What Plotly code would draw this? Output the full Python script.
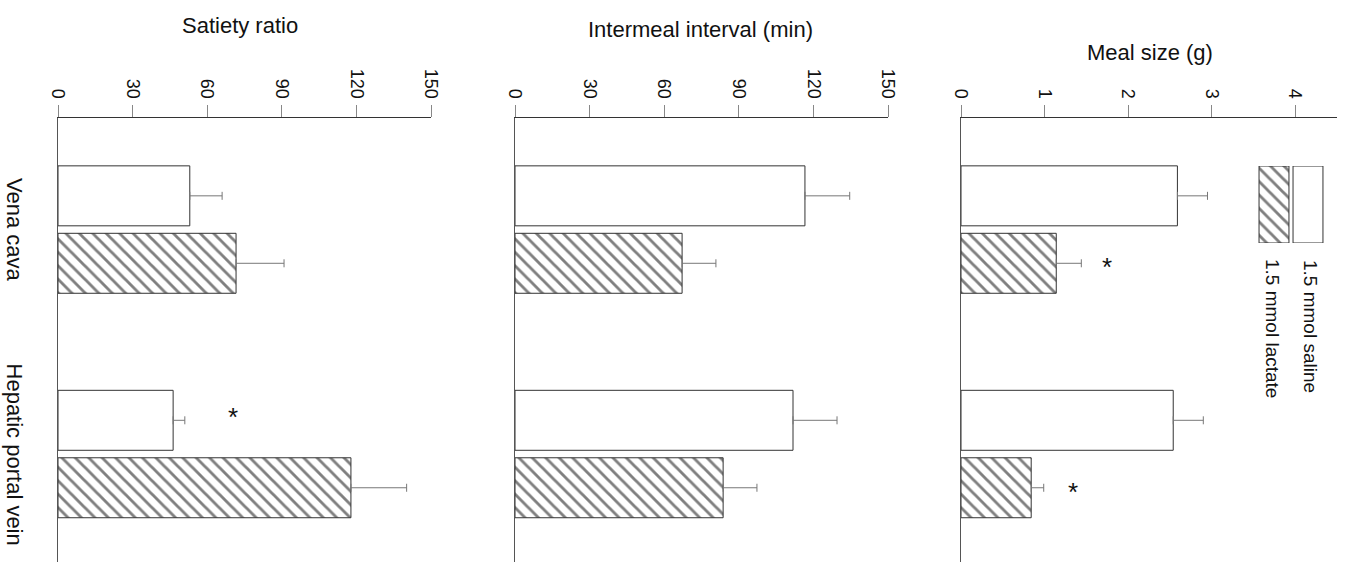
import plotly.graph_objects as go

W, H = 1349, 562

# ---- data ----
sites = ["Vena cava", "Hepatic portal vein"]
series_names = ["1.5 mmol saline", "1.5 mmol lactate"]

satiety_saline = [53.0, 46.3]
satiety_saline_err = [13.0, 4.7]
satiety_lactate = [71.6, 117.8]
satiety_lactate_err = [19.3, 22.4]

interval_saline = [116.6, 111.8]
interval_saline_err = [18.0, 17.7]
interval_lactate = [67.2, 83.7]
interval_lactate_err = [13.6, 13.6]

meal_saline = [2.59, 2.54]
meal_saline_err = [0.36, 0.36]
meal_lactate = [1.14, 0.84]
meal_lactate_err = [0.30, 0.15]

panel_titles = ["Satiety ratio", "Intermeal interval (min)", "Meal size (g)"]
ticks_150 = [0, 30, 60, 90, 120, 150]
ticks_meal = [0, 1, 2, 3, 4]

# significance stars: (panel, value position, category, series index)
stars = [(1, 70.4, 1, 0), (3, 1.75, 0, 1), (3, 1.34, 1, 1)]

FONT = "Liberation Sans, Arial, sans-serif"
LINE = "#333333"
ERR = "#777777"
TXT = "#111111"

fig = go.Figure()

cat_idx = list(range(len(sites)))
panels = [
    ("x", "y", satiety_saline, satiety_saline_err, satiety_lactate, satiety_lactate_err),
    ("x2", "y2", interval_saline, interval_saline_err, interval_lactate, interval_lactate_err),
    ("x3", "y3", meal_saline, meal_saline_err, meal_lactate, meal_lactate_err),
]

HATCH = dict(size=9.5, solidity=0.3, fgcolor="black", bgcolor="white")

for xa, ya, sv, se, lv, le in panels:
    fig.add_trace(go.Bar(
        y=cat_idx, x=sv, orientation="h", xaxis=xa, yaxis=ya,
        name=series_names[0],
        marker=dict(color="white", line=dict(color=LINE, width=1)),
        error_x=dict(type="data", array=se, arrayminus=[0] * len(se), symmetric=False,
                     color=ERR, thickness=1, width=4),
        showlegend=False,
    ))
    fig.add_trace(go.Bar(
        y=cat_idx, x=lv, orientation="h", xaxis=xa, yaxis=ya,
        name=series_names[1],
        marker=dict(color="white", line=dict(color=LINE, width=1),
                    pattern=dict(shape="\\", **HATCH)),
        error_x=dict(type="data", array=le, arrayminus=[0] * len(le), symmetric=False,
                     color=ERR, thickness=1, width=4),
        showlegend=False,
    ))

# legend swatches drawn as bars on a small hidden axis
fig.add_trace(go.Bar(
    x=[0, 1], y=[1, 1], xaxis="x4", yaxis="y4", width=0.88,
    marker=dict(color="white", line=dict(color=LINE, width=1),
                pattern=dict(shape=["\\", ""], **HATCH)),
    showlegend=False, hoverinfo="skip",
))

top_frac = 1 - 118 / H
yrange = [1.481, -0.497]

def xaxis(dom, rng, tv):
    return dict(domain=[dom[0] / W, dom[1] / W], range=rng, side="top",
                tickvals=tv, ticktext=[str(t) for t in tv], tickangle=90,
                showline=True, linecolor=LINE, linewidth=1,
                ticks="outside", ticklen=12, tickcolor="#888", tickwidth=1,
                showgrid=False, zeroline=False, automargin=False,
                tickfont=dict(family=FONT, size=18, color=TXT))

def yaxis(anchor):
    return dict(domain=[0, top_frac], range=yrange, anchor=anchor,
                showline=True, linecolor="#555", linewidth=1,
                showticklabels=False, ticks="", showgrid=False, zeroline=False,
                automargin=False)

fig.update_layout(
    width=W, height=H,
    margin=dict(l=0, r=0, t=0, b=0),
    paper_bgcolor="white", plot_bgcolor="white",
    barmode="group", bargap=0.399, bargroupgap=0.111,
    xaxis=dict(xaxis([58, 431], [0, 150], ticks_150), anchor="y"),
    yaxis=yaxis("x"),
    xaxis2=dict(xaxis([515, 888], [0, 150], ticks_150), anchor="y2"),
    yaxis2=yaxis("x2"),
    xaxis3=dict(xaxis([961, 1337], [0, 4.5], ticks_meal), anchor="y3"),
    yaxis3=yaxis("x3"),
    xaxis4=dict(domain=[1257 / W, 1325 / W], range=[-0.5, 1.5], visible=False, anchor="y4"),
    yaxis4=dict(domain=[1 - 243 / H, 1 - 166 / H], range=[0, 1], visible=False, anchor="x4"),
    showlegend=False,
)

ann = []
# panel titles
for t, cx, cy in zip(panel_titles, [240, 700, 1150], [25, 29, 53]):
    ann.append(dict(text=t, xref="paper", yref="paper", x=cx / W, y=1 - cy / H,
                    xanchor="center", yanchor="middle", showarrow=False,
                    font=dict(family=FONT, size=22, color=TXT)))
# category labels
for i, s in enumerate(sites):
    ann.append(dict(text=s, xref="paper", yref="y", x=0, y=i, textangle=90,
                    xanchor="left", yanchor="middle", showarrow=False,
                    font=dict(family=FONT, size=22, color=TXT)))
# legend labels
for s, cx, cy in zip(series_names, [1311, 1273], [326, 328]):
    ann.append(dict(text=s, xref="paper", yref="paper", x=cx / W, y=1 - cy / H,
                    textangle=90, xanchor="center", yanchor="middle", showarrow=False,
                    font=dict(family=FONT, size=19, color=TXT)))
# stars
for p, xv, ci, si in stars:
    xr = "x" if p == 1 else "x%d" % p
    yr = "y" if p == 1 else "y%d" % p
    ann.append(dict(text="*", xref=xr, yref=yr, x=xv, y=ci + (-0.167 if si == 0 else 0.167),
                    xanchor="center", yanchor="middle", showarrow=False,
                    font=dict(family=FONT, size=26, color=TXT)))
fig.update_layout(annotations=ann)

fig.write_html("out.html", config={"displayModeBar": False},
               post_script="document.body.style.margin='0';")
